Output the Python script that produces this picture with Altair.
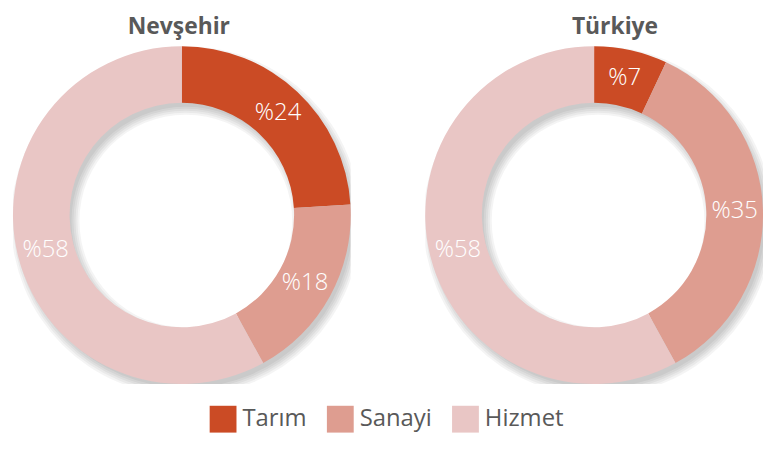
import altair as alt
import pandas as pd

regions = ["Nevşehir", "Türkiye"]
categories = ["Tarım", "Sanayi", "Hizmet"]
nevsehir_values = [24, 18, 58]
turkiye_values = [7, 35, 58]
colors = ["#CB4B25", "#DE9D90", "#E9C6C5"]

rows = []
for region, vals in zip(regions, [nevsehir_values, turkiye_values]):
    for i, (cat, v) in enumerate(zip(categories, vals)):
        rows.append({"region": region, "category": cat, "value": v,
                     "order": i, "label": f"%{v}"})
df = pd.DataFrame(rows)

OUTER = 170
INNER = 113
FONT = "Open Sans"


def panel(region, title_dx):
    base = alt.Chart(df).transform_filter(alt.datum.region == region)
    shadows = []
    for k in range(0, 10, 2):
        shadows.append(
            base.mark_arc(outerRadius=OUTER + k - 2, innerRadius=INNER - k + 2,
                          color="black", opacity=0.045, xOffset=4, yOffset=6,
                          clip=True)
            .encode(theta=alt.Theta("sum(value):Q", stack=True))
        )
    enc = dict(
        theta=alt.Theta("value:Q", stack=True),
        order=alt.Order("order:Q"),
    )
    arcs = base.mark_arc(outerRadius=OUTER, innerRadius=INNER, stroke=None).encode(
        color=alt.Color(
            "category:N",
            scale=alt.Scale(domain=categories, range=colors),
            legend=alt.Legend(
                title=None, orient="none", legendX=198, legendY=362,
                direction="horizontal", symbolType="square", symbolSize=729,
                symbolStrokeWidth=0, labelFontSize=24, labelColor="#595959",
                labelFont=FONT, columnPadding=20, labelOffset=6,
            ),
        ),
        **enc,
    )
    text = base.mark_text(radius=(OUTER + INNER) / 2, fontSize=24, font=FONT,
                          fontWeight=300, color="white").encode(
        text="label:N", **enc
    )
    return alt.layer(*shadows, arcs, text).properties(
        width=340, height=340,
        title=alt.TitleParams(region, fontSize=23, fontWeight="bold",
                              color="#595959", font=FONT, anchor="middle",
                              dx=title_dx, offset=7),
    )


chart = alt.hconcat(panel("Nevşehir", -3), panel("Türkiye", 21), spacing=75).properties(
    padding={"left": 5, "top": 7, "right": 0, "bottom": 0}
).configure_view(stroke=None)

chart.save("out.html", embed_options={"renderer": "svg", "actions": False})
